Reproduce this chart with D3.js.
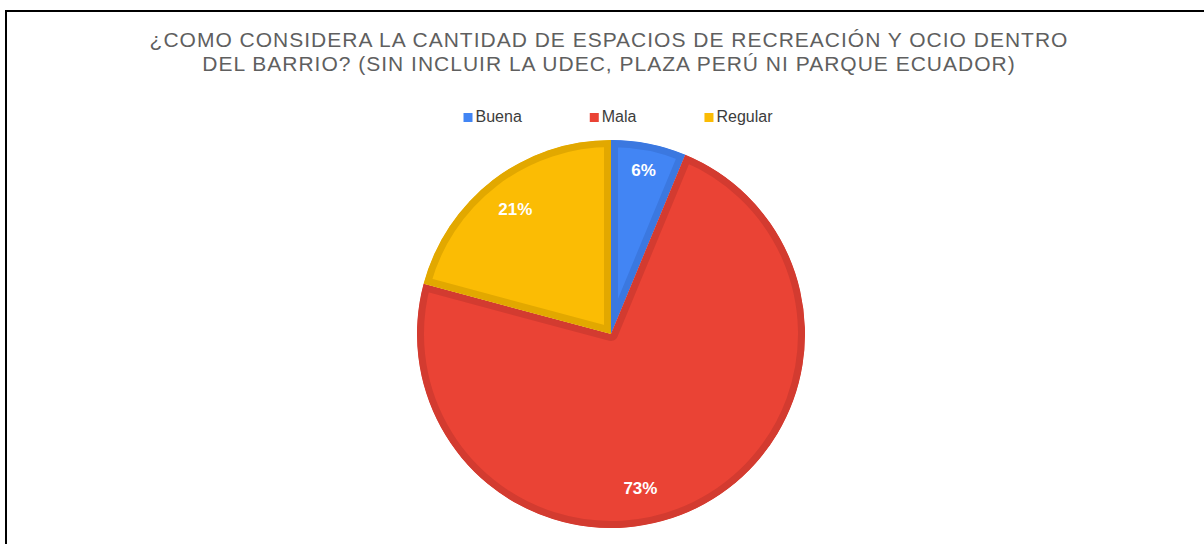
<!DOCTYPE html>
<html>
<head>
<meta charset="utf-8">
<script src="https://cdn.jsdelivr.net/npm/d3@7"></script>
<style>
  body { margin: 0; background: #fff; }
</style>
</head>
<body>
<div class="chart"></div>
<script>
var svgWidth = 1204;
var svgHeight = 544;

// Data
var categories = ["Buena", "Mala", "Regular"];
var counts = [3, 35, 10];
var fillColors = ["#4285f4", "#ea4335", "#fbbc04"];
var edgeColors = ["#3b78e0", "#d33b30", "#e2a800"];
var titleLines = [
    "¿COMO CONSIDERA LA CANTIDAD DE ESPACIOS DE RECREACIÓN Y OCIO DENTRO",
    "DEL BARRIO? (SIN INCLUIR LA UDEC, PLAZA PERÚ NI PARQUE ECUADOR)"
];

var cx = 611, cy = 334, radius = 194;

var svg = d3.select(".chart")
    .append("svg")
    .attr("width", svgWidth)
    .attr("height", svgHeight);

// frame (runs off the right and bottom edges)
svg.append("rect")
    .attr("x", 6)
    .attr("y", 11)
    .attr("width", 1400)
    .attr("height", 800)
    .attr("fill", "none")
    .attr("stroke", "#000")
    .attr("stroke-width", 2);

// Title
svg.append("g").selectAll("text")
    .data(titleLines)
    .enter()
    .append("text")
    .attr("x", 609)
    .attr("y", (d, i) => 47 + i * 24)
    .attr("text-anchor", "middle")
    .style("font-family", "'Liberation Sans', Arial, sans-serif")
    .style("font-size", "21px")
    .style("letter-spacing", "1px")
    .attr("fill", "#5f5f5f")
    .text(d => d);

// Legend
var legend = svg.append("g");
var lx = 0;
categories.forEach(function(c, i) {
    var item = legend.append("g").attr("transform", `translate(${lx}, 0)`);
    item.append("rect")
        .attr("x", 0)
        .attr("y", 113)
        .attr("width", 9)
        .attr("height", 9)
        .attr("fill", fillColors[i]);
    var t = item.append("text")
        .attr("x", 12)
        .attr("y", 122)
        .style("font-family", "'Liberation Sans', Arial, sans-serif")
        .style("font-size", "16px")
        .attr("fill", "#3c3c3c")
        .text(c);
    lx += 12 + t.node().getComputedTextLength() + 68;
});
var legendWidth = lx - 68;
legend.attr("transform", `translate(${618 - legendWidth / 2}, 0)`);

// Pie
var pie = d3.pie().sort(null).value(d => d);
var arcs = pie(counts);
var arc = d3.arc().innerRadius(0).outerRadius(radius);
var total = d3.sum(counts);

var defs = svg.append("defs");
var pieGroup = svg.append("g")
    .attr("transform", `translate(${cx}, ${cy})`);

arcs.forEach(function(a, i) {
    defs.append("clipPath")
        .attr("id", "clip" + i)
        .append("path")
        .attr("d", arc(a));
    pieGroup.append("path")
        .attr("d", arc(a))
        .attr("fill", fillColors[i])
        .attr("stroke", edgeColors[i])
        .attr("stroke-width", 14)
        .attr("stroke-linejoin", "round")
        .attr("clip-path", `url(#clip${i})`);
});

// Percentage labels
pieGroup.selectAll(".lbl")
    .data(arcs)
    .enter()
    .append("text")
    .attr("class", "lbl")
    .attr("transform", function(d) {
        var mid = (d.startAngle + d.endAngle) / 2;
        var span = d.endAngle - d.startAngle;
        // the big slice label sits a bit lower, as in the original
        if (span > Math.PI) mid += 0.27;
        var r = span < 0.5 ? radius * 0.86 : radius * 0.81;
        return `translate(${r * Math.sin(mid)}, ${-r * Math.cos(mid)})`;
    })
    .attr("dy", "0.36em")
    .attr("text-anchor", "middle")
    .style("font-family", "'Liberation Sans', Arial, sans-serif")
    .style("font-size", "17px")
    .style("font-weight", "bold")
    .attr("fill", "#fff")
    .text(d => Math.round(d.value / total * 100) + "%");
</script>
</body>
</html>
